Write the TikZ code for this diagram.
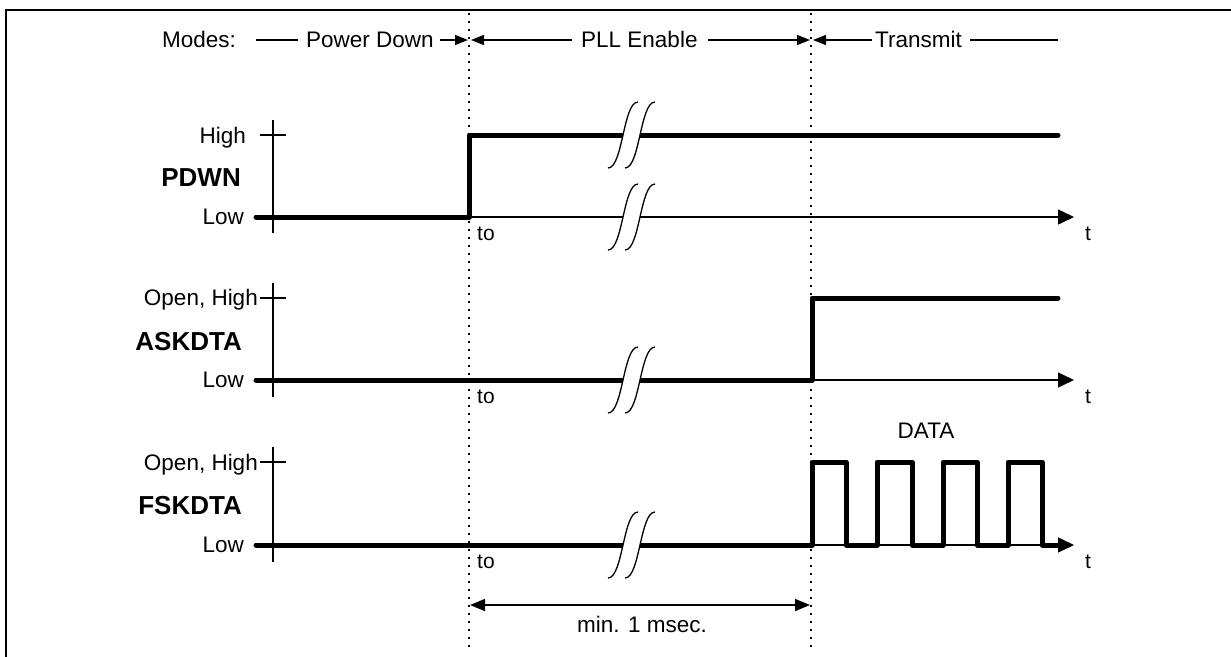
\documentclass[tikz,border=0pt]{standalone}
\usepackage{fontspec}
\setmainfont{Liberation Sans}
\usetikzlibrary{arrows.meta}
\newcommand\sigbreak[2]{%
  \fill[white] (#1-15,#2+33) .. controls (#1,#2+33) and (#1,#2-33) .. (#1+15,#2-33)
     -- (#1+32,#2-33) .. controls (#1+17,#2-33) and (#1+17,#2+33) .. (#1+2,#2+33) -- cycle;
  \draw[brkline] (#1-15,#2+33) .. controls (#1,#2+33) and (#1,#2-33) .. (#1+15,#2-33);
  \draw[brkline] (#1+2,#2+33) .. controls (#1+17,#2+33) and (#1+17,#2-33) .. (#1+32,#2-33);
}
\begin{document}
\begin{tikzpicture}[x=1pt,y=-1pt,
  lbl/.style={inner sep=0pt,font=\fontsize{22.5}{26}\selectfont},
  sig/.style={inner sep=0pt,font=\fontsize{26}{30}\selectfont\bfseries},
  small/.style={inner sep=0pt,font=\fontsize{21}{25}\selectfont},
  wave/.style={line width=5pt,line cap=round,line join=round},
  axisline/.style={line width=1.5pt},
  brkline/.style={line width=1.3pt},
  guide/.style={line width=1.6pt,dash pattern=on 2pt off 6pt},
  modeline/.style={line width=1.3pt},
  tarrow/.style={-{Triangle[length=16pt,width=15pt]}},
  mtip/.tip={Triangle[length=13pt,width=10pt]},
  dtip/.tip={Triangle[length=15pt,width=12pt]}
]
\useasboundingbox (0,0) rectangle (1231,656);
\clip (0,0) rectangle (1231,656);
% frame
\draw[line width=2.5pt] (6,680) -- (6,10) -- (1250,10);

% ---- modes row ----
\node[lbl,anchor=base west] (modes) at (162,47) {Modes:};
\node[lbl,anchor=base west] (pd) at (306,47) {Power Down};
\node[lbl,anchor=base west] (pll) at (581,47) {PLL Enable};
\node[lbl,anchor=base west] (tx) at (875,47) {Transmit};
\coordinate (m1) at (256,40); \coordinate (m2) at (298,40);
\coordinate (m3) at (440,40); \coordinate (m4) at (468,40);
\coordinate (m5) at (471,40); \coordinate (m6) at (572,40);
\coordinate (m7) at (708,40); \coordinate (m8) at (810,40);
\coordinate (m9) at (813,40); \coordinate (m10) at (872,40);
\coordinate (m11) at (970,40); \coordinate (m12) at (1058,40);
\draw[modeline] (m1) -- (m2);
\draw[modeline,-mtip] (m3) -- (m4);
\draw[modeline,mtip-] (m5) -- (m6);
\draw[modeline,-mtip] (m7) -- (m8);
\draw[modeline,mtip-] (m9) -- (m10);
\draw[modeline] (m11) -- (m12);

% ---- PDWN ----
\node[lbl,anchor=base east] (pHigh) at (246,143) {High};
\node[lbl,anchor=base east] (pLow) at (244,224) {Low};
\node[sig,anchor=base east] (pName) at (241,186) {PDWN};
\node[small,anchor=base west] (pto) at (477,240) {to};
\draw[axisline] (273,120) -- (273,233);
\draw[axisline] (260,135) -- (286,135);
\draw[axisline,tarrow] (273,217) -- (1074,217);
\draw[wave] (256,217) -- (469,217) -- (469,135) -- (1058,135);
\sigbreak{623}{135}
\sigbreak{623}{217}
\node[small,anchor=base west] (pT) at (1085,240) {t};

% ---- ASKDTA ----
\node[lbl,anchor=base east] (aHigh) at (258,305) {Open, High};
\node[lbl,anchor=base east] (aLow) at (244,387) {Low};
\node[sig,anchor=base east] (aName) at (242,350) {ASKDTA};
\node[small,anchor=base west] (ato) at (477,403) {to};
\draw[axisline] (273,283) -- (273,397);
\draw[axisline] (260,298) -- (286,298);
\draw[axisline,tarrow] (273,380) -- (1074,380);
\draw[wave] (256,380) -- (812,380) -- (812,298) -- (1058,298);
\sigbreak{623}{380}
\node[small,anchor=base west] (aT) at (1085,403) {t};

% ---- FSKDTA ----
\node[lbl,anchor=base east] (fHigh) at (258,470) {Open, High};
\node[lbl,anchor=base east] (fLow) at (244,552) {Low};
\node[sig,anchor=base east] (fName) at (242,514) {FSKDTA};
\node[small,anchor=base west] (fto) at (477,568) {to};
\draw[axisline] (273,447) -- (273,562);
\draw[axisline] (260,462) -- (286,462);
\draw[axisline,tarrow] (273,545) -- (1074,545);
\draw[wave] (256,545) -- (812,545) -- (812,462) -- (846,462) -- (846,545)
  -- (877,545) -- (877,462) -- (912,462) -- (912,545)
  -- (943,545) -- (943,462) -- (977,462) -- (977,545)
  -- (1008,545) -- (1008,462) -- (1042,462) -- (1042,545) -- (1058,545);
\sigbreak{623}{545}
\node[small,anchor=base west] (fT) at (1085,568) {t};
\node[lbl,anchor=base] (data) at (926,438) {DATA};

% ---- guides ----
\coordinate (g1t) at (469,13); \coordinate (g1b) at (469,652);
\coordinate (g2t) at (811,13); \coordinate (g2b) at (811,652);
\draw[guide] (g1t) -- (g1b);
\draw[guide] (g2t) -- (g2b);

% ---- min 1 msec ----
\coordinate (d1) at (470,605); \coordinate (d2) at (810,605);
\draw[axisline,dtip-dtip] (d1) -- (d2);
\node[lbl,anchor=base] (minl) at (642,632) {min. 1 msec.};
\end{tikzpicture}
\end{document}
